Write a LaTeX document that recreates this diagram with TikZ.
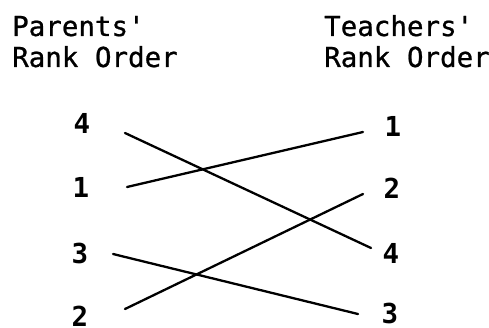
\documentclass[tikz,border=0pt]{standalone}
\usepackage{fontspec}
\setmonofont{DejaVu Sans Mono}
\newfontfamily\titlefont{DejaVu Sans Mono}[FakeBold=0.8]
\begin{document}
\begin{tikzpicture}[x=1pt,y=1pt,
  title/.style={anchor=base west,inner sep=0pt,font=\fontsize{27.5}{31}\selectfont\titlefont},
  rank/.style={inner sep=0pt,font=\fontsize{27.5}{30}\selectfont\ttfamily\bfseries},
  link/.style={line width=2.3pt,line cap=round}]
\useasboundingbox (0,0) rectangle (489,327);
% titles
\node[title] (pt1) at (12,291) {Parents'};
\node[title] (pt2) at (12,260) {Rank Order};
\node[title] (tt1) at (324,291) {Teachers'};
\node[title] (tt2) at (324,260) {Rank Order};
% left ranks
\node[rank] (l4) at (82,204) {4};
\node[rank] (l1) at (81,140) {1};
\node[rank] (l3) at (80,74) {3};
\node[rank] (l2) at (80,11) {2};
% right ranks
\node[rank] (r1) at (393,201) {1};
\node[rank] (r2) at (392,139) {2};
\node[rank] (r4) at (391,74) {4};
\node[rank] (r3) at (390,14) {3};
% connector ends
\coordinate (l4e) at (125,194);
\coordinate (r4w) at (371,79);
\coordinate (l1e) at (127,140);
\coordinate (r1w) at (363,195);
\coordinate (l3e) at (113,73);
\coordinate (r3w) at (358,13);
\coordinate (l2e) at (125,18);
\coordinate (r2w) at (363,133);
\draw[link] (l4e) -- (r4w);
\draw[link] (l1e) -- (r1w);
\draw[link] (l3e) -- (r3w);
\draw[link] (l2e) -- (r2w);
\end{tikzpicture}
\end{document}
